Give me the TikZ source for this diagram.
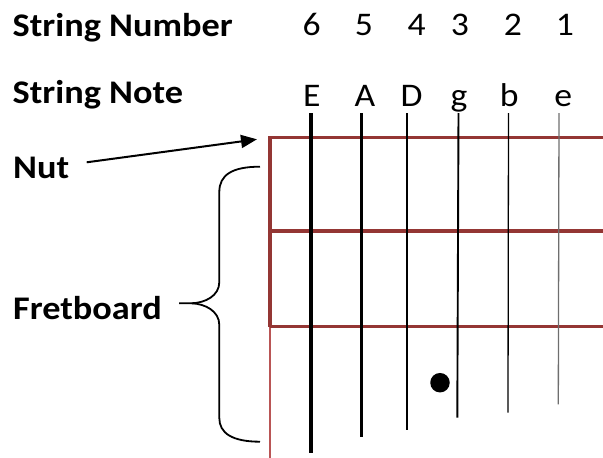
\documentclass[tikz,border=0pt]{standalone}
\usepackage{fontspec}
\setmainfont{Carlito}
\usetikzlibrary{arrows.meta}
\definecolor{fretred}{RGB}{148,54,52}
\definecolor{fretlight}{RGB}{185,85,85}
\definecolor{thingrey}{RGB}{110,110,110}
\tikzset{
  lbl/.style={font=\fontsize{33}{36}\selectfont\bfseries, inner sep=0pt, anchor=base west, xscale=1.1},
  num/.style={font=\fontsize{33}{36}\selectfont, inner sep=0pt, anchor=base, xscale=1.08},
  fret/.style={draw=fretred, line width=3.2pt},
  stringline/.style={draw=black},
  pointer/.style={line width=2pt, -{Triangle[length=16pt,width=13pt]}},
  bracestyle/.style={line width=1.8pt}
}
\begin{document}
\begin{tikzpicture}[x=1pt,y=-1pt]
\useasboundingbox (0,0) rectangle (603,458);
% labels
\node[lbl] (snum) at (12.5,36) {String Number};
\node[lbl] (snote) at (12.5,103) {String Note};
\node[lbl] (nut) at (13,178.5) {Nut};
\node[lbl] (fret) at (13,319.5) {Fretboard};
% string numbers
\node[num] (n6) at (311.7,35) {6};
\node[num] (n5) at (364,35) {5};
\node[num] (n4) at (416.7,35) {4};
\node[num] (n3) at (460,35) {3};
\node[num] (n2) at (513,35) {2};
\node[num] (n1) at (565,35) {1};
% string notes
\node[num] (l6) at (311.7,106) {E};
\node[num] (l5) at (365,106) {A};
\node[num] (l4) at (411.7,106) {D};
\node[num] (l3) at (459,106) {g};
\node[num] (l2) at (509.3,106) {b};
\node[num] (l1) at (563.3,106) {e};
% fretboard frame
\coordinate (nutL) at (270,137.3);
\coordinate (nutR) at (603,137.3);
\coordinate (f1L) at (270,231);
\coordinate (f1R) at (603,231);
\coordinate (f2L) at (270,326.7);
\coordinate (f2R) at (603,326.7);
\coordinate (boardB) at (270,458);
\draw[draw=fretlight, line width=2.2pt] (f2L) -- (boardB);
\draw[fret] (nutR) -- (nutL) -- (f2L);
\draw[fret] (f1L) -- (f1R);
\draw[fret] (f2L) -- (f2R);
% strings
\coordinate (s6t) at (310.7,113); \coordinate (s6b) at (310.7,453.3);
\coordinate (s5t) at (361.7,113); \coordinate (s5b) at (361.7,436.7);
\coordinate (s4t) at (406.7,113); \coordinate (s4b) at (406.7,430);
\coordinate (s3t) at (458.5,113); \coordinate (s3b) at (457.3,417.7);
\coordinate (s2t) at (508.5,113); \coordinate (s2b) at (508,412.7);
\coordinate (s1t) at (559,113); \coordinate (s1b) at (558.3,404.3);
\draw[stringline, line width=4pt] (s6t) -- (s6b);
\draw[stringline, line width=3pt] (s5t) -- (s5b);
\draw[stringline, line width=2.4pt] (s4t) -- (s4b);
\draw[stringline, line width=1.9pt] (s3t) -- (s3b);
\draw[stringline, line width=1.3pt] (s2t) -- (s2b);
\draw[draw=thingrey, line width=1.3pt] (s1t) -- (s1b);
% finger dot
\node[circle, fill=black, inner sep=0pt, minimum size=19.5pt] (dot) at (440,382.7) {};
% nut arrow
\coordinate (arrowstart) at (86.7,162.3);
\coordinate (arrowtip) at (257,139.3);
\draw[pointer] (arrowstart) -- (arrowtip);
% brace
\coordinate (brtop) at (260,166.7);
\coordinate (brbot) at (260,441.7);
\coordinate (brtip) at (179,303.3);
\draw[bracestyle] (brtop) .. controls (232,166.7) and (219.3,175) .. (219.3,192)
  -- (219.3,282) .. controls (219.3,296) and (205,302.8) .. (191.7,303.3)
  -- (brtip);
\draw[bracestyle] (191.7,303.3) .. controls (205,303.8) and (219.3,311) .. (219.3,325)
  -- (219.3,418) .. controls (219.3,433) and (232,441.7) .. (brbot);
\end{tikzpicture}
\end{document}
